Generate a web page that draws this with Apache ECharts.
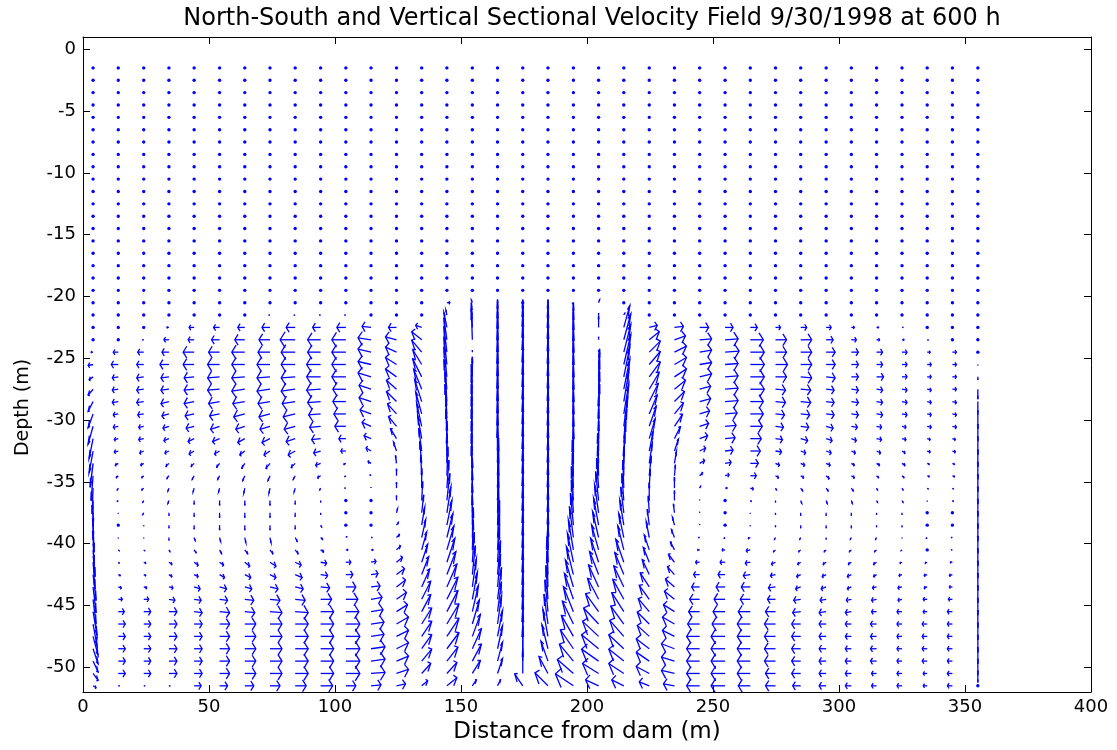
<!DOCTYPE html>
<html>
<head>
<meta charset="utf-8">
<title>North-South and Vertical Sectional Velocity Field</title>
<script src="https://cdn.jsdelivr.net/npm/echarts@6/dist/echarts.min.js"></script>
<style>
html,body{margin:0;padding:0;background:#fff;}
#chart{width:1117px;height:750px;}
</style>
</head>
<body>
<div id="chart"></div>
<script>
// Profile positions along the section (m from the dam)
const distance = [4.0, 14.0, 24.1, 34.1, 44.1, 54.2, 64.2, 74.2, 84.2, 94.3, 104.3, 114.3,
  124.4, 134.4, 144.4, 154.5, 164.5, 174.5, 184.5, 194.6, 204.6, 214.6, 224.7, 234.7,
  244.7, 254.8, 264.8, 274.8, 284.8, 294.9, 304.9, 314.9, 325.0, 335.0, 345.0, 355.1];

// Cell-centre depths (m)
const depth = [-1.5, -2.5, -3.5, -4.5, -5.5, -6.5, -7.5, -8.5, -9.5, -10.5, -11.5, -12.5,
  -13.5, -14.5, -15.5, -16.5, -17.5, -18.5, -19.5, -20.5, -21.5, -22.5, -23.5, -24.5,
  -25.5, -26.5, -27.5, -28.5, -29.5, -30.5, -31.5, -32.5, -33.5, -34.5, -35.5, -36.5,
  -37.5, -38.5, -39.5, -40.5, -41.5, -42.5, -43.5, -44.5, -45.5, -46.5, -47.5, -48.5,
  -49.5, -50.5, -51.5];

const yTicks = [0, -5, -10, -15, -20, -25, -30, -35, -40, -45, -50];

// Along-section velocity u, one profile per station, surface to bottom (positive = away from dam)
const uProfiles = [
  [0,0,0,0,0,0,0,0,0,0,0,0,0,0,0,0,0,0, 0,0,0,0,0,-2,-5,-4,-5,-5,-5,-5,-4,-4,-3,-2,-1,0,0,1,1,2,2,3,3,3,4,4,5,5,5,5,3],
  [0,0,0,0,0,0,0,0,0,0,0,0,0,0,0,0,0,0, 0,0,0,0,0,-5,-7,-6,-6,-6,-5,-5,-4,-4,-3,-2,-1,-1,0,0,0,1,1,2,3,4,6,7,7,7,7,7,1],
  [0,0,0,0,0,0,0,0,0,0,0,0,0,0,0,0,0,0, 0,0,0,0,-1,-6,-7,-7,-7,-7,-6,-5,-5,-4,-3,-2,-2,-1,-1,0,0,1,2,2,3,5,7,7,7,7,7,7,1],
  [0,0,0,0,0,0,0,0,0,0,0,0,0,0,0,0,0,0, 0,0,0,-2,-5,-7,-9,-8,-8,-8,-7,-6,-5,-4,-3,-2,-1,-1,0,0,0,1,3,3,4,6,8,8,8,8,8,8,1],
  [0,0,0,0,0,0,0,0,0,0,0,0,0,0,0,0,0,0, 0,0,0,-5,-6,-11,-11,-10,-10,-10,-9,-8,-6,-5,-3,-2,-1,0,0,0,1,2,4,4,6,7,8,8,8,8,8,8,7],
  [0,0,0,0,0,0,0,0,0,0,0,0,0,0,0,0,0,0, 0,0,0,-6,-8,-11,-12,-12,-12,-11,-10,-9,-7,-5,-3,-2,-1,0,0,0,1,2,4,5,7,8,10,10,10,10,10,10,8],
  [0,0,0,0,0,0,0,0,0,0,0,0,0,0,0,0,0,0, 0,0,0,-7,-10,-13,-13,-13,-13,-12,-11,-9,-7,-5,-3,-2,-1,0,0,0,1,3,5,6,7,9,10,11,11,11,11,11,9],
  [0,0,0,0,0,0,0,0,0,0,0,0,0,0,0,0,0,0, 0,0,-1,-8,-11,-12,-13,-13,-13,-12,-11,-10,-8,-6,-4,-2,-1,0,0,0,1,3,6,6,8,10,12,12,12,12,12,12,10],
  [0,0,0,0,0,0,0,0,0,0,0,0,0,0,0,0,0,0, 0,0,-1,-9,-15,-14,-14,-14,-14,-13,-12,-11,-9,-7,-4,-2,-1,0,0,0,2,3,6,7,8,10,13,13,13,13,13,13,11],
  [0,0,0,0,0,0,0,0,0,0,0,0,0,0,0,0,0,0, 0,0,-1,-8,-13,-13,-14,-14,-14,-13,-12,-11,-9,-7,-5,-3,-1,0,0,1,2,3,6,7,9,11,13,13,13,13,13,13,12],
  [0,0,0,0,0,0,0,0,0,0,0,0,0,0,0,0,0,0, 0,0,-1,-9,-14,-14,-14,-14,-13,-13,-12,-11,-7,-5,-2,-1,-1,0,0,0,1,2,5,7,10,12,13,14,14,14,14,14,10],
  [0,0,0,0,0,0,0,0,0,0,0,0,0,0,0,0,0,0, 0,0,0,-9,-13,-13,-13,-13,-12,-12,-11,-9,-7,-5,-3,-1,0,0,0,0,1,2,5,7,9,11,12,13,13,14,14,14,10],
  [0,0,0,0,0,0,0,0,0,0,0,0,0,0,0,0,0,0, 0,0,0,-8,-11,-11,-11,-11,-10,-10,-9,-8,-6,-3,-1,0,0,0,1,2,3,4,6,8,9,10,11,12,12,12,12,12,9],
  [0,0,0,0,0,0,0,0,0,0,0,0,0,0,0,0,0,0, 0,0,0,-6,-10,-10,-9,-9,-8,-7,-6,-5,-4,-3,-2,-1,0,1,2,3,4,5,6,7,8,9,9,10,10,10,10,9,6],
  [0,0,0,0,0,0,0,0,0,0,0,0,0,0,0,0,0,0, 0,3,-1,-3,-3,-3,-3,-3,-3,-2,-2,-1,-1,0,0,1,2,3,4,5,6,7,8,9,10,11,11,12,12,12,11,10,10],
  [0,0,0,0,0,0,0,0,0,0,0,0,0,0,0,0,0,0, 0,-1,-1,-1,-1,0,0,0,-1,-1,-1,-1,-1,-1,-1,-1,0,0,0,0,1,1,2,3,4,5,6,7,8,9,9,8,4],
  [0,0,0,0,0,0,0,0,0,0,0,0,0,0,0,0,0,0, 0,0,0,0,0,0,0,0,0,0,0,0,0,0,0,1,1,1,1,1,2,2,2,3,3,4,4,4,5,5,5,5,3],
  [0,0,0,0,0,0,0,0,0,0,0,0,0,0,0,0,0,0, 0,0,0,0,0,0,0,0,0,0,0,0,0,0,0,0,0,0,0,0,0,0,0,0,0,0,0,0,0,0,0,0,-8],
  [0,0,0,0,0,0,0,0,0,0,0,0,0,0,0,0,0,0, 0,0,0,0,0,0,0,0,0,0,0,0,0,0,0,0,0,0,0,0,0,0,0,-1,-1,-2,-3,-4,-5,-6,-7,-9,-13],
  [0,0,0,0,0,0,0,0,0,0,0,0,0,0,0,0,0,0, 0,-1,0,0,0,0,0,0,0,0,0,0,0,0,0,-1,-1,-2,-2,-3,-4,-5,-6,-7,-8,-9,-10,-11,-12,-13,-14,-16,-18],
  [0,0,0,0,0,0,0,0,0,0,0,0,0,0,0,0,0,0, 0,1,0,0,0,0,1,1,1,1,1,0,0,0,-1,-1,-2,-3,-4,-5,-6,-7,-8,-9,-10,-11,-13,-15,-16,-17,-17,-16,-13],
  [0,0,0,0,0,0,0,0,0,0,0,0,0,0,0,0,0,0, 0,0,1,6,7,7,7,6,6,5,5,4,3,2,1,0,-1,-2,-3,-4,-5,-6,-8,-9,-10,-11,-12,-13,-14,-15,-15,-15,-12],
  [0,0,0,0,0,0,0,0,0,0,0,0,0,0,0,0,0,0, 0,0,0,8,10,11,11,11,10,9,8,7,6,4,3,2,1,0,-1,-2,-3,-5,-6,-7,-9,-10,-11,-12,-12,-13,-13,-13,-10],
  [0,0,0,0,0,0,0,0,0,0,0,0,0,0,0,0,0,0, 0,0,0,9,11,12,12,12,11,10,9,8,6,4,2,1,0,0,-1,-2,-3,-4,-6,-7,-9,-10,-11,-12,-12,-13,-13,-13,-11],
  [0,0,0,0,0,0,0,0,0,0,0,0,0,0,0,0,0,0, 0,0,0,9,12,12,12,12,11,11,10,9,8,6,5,3,1,0,0,0,-1,-2,-4,-6,-8,-10,-11,-12,-13,-13,-13,-13,-13],
  [0,0,0,0,0,0,0,0,0,0,0,0,0,0,0,0,0,0, 0,0,0,8,13,14,13,13,13,13,12,11,10,8,6,4,2,0,0,0,-1,-3,-5,-7,-9,-11,-12,-13,-14,-14,-14,-14,-14],
  [0,0,0,0,0,0,0,0,0,0,0,0,0,0,0,0,0,0, 0,0,0,7,13,14,14,14,14,13,13,12,11,10,8,6,3,1,0,0,-2,-4,-5,-7,-9,-10,-12,-13,-13,-13,-13,-13,-12],
  [0,0,0,0,0,0,0,0,0,0,0,0,0,0,0,0,0,0, 0,0,0,5,11,11,12,11,10,10,9,8,7,6,4,3,1,0,0,0,-1,-2,-4,-5,-7,-8,-10,-11,-11,-11,-11,-10,-10],
  [0,0,0,0,0,0,0,0,0,0,0,0,0,0,0,0,0,0, 0,0,0,6,11,11,11,11,10,10,9,8,7,5,4,3,2,1,0,0,-1,-2,-3,-4,-5,-7,-8,-9,-9,-9,-9,-9,-8],
  [0,0,0,0,0,0,0,0,0,0,0,0,0,0,0,0,0,0, 0,0,0,5,7,9,9,9,8,8,8,7,6,5,4,3,2,1,0,0,0,-2,-3,-4,-5,-6,-7,-7,-7,-7,-7,-7,-7],
  [0,0,0,0,0,0,0,0,0,0,0,0,0,0,0,0,0,0, 0,0,0,3,5,7,7,7,7,7,7,6,5,4,3,3,2,1,0,0,-1,-2,-3,-4,-4,-5,-6,-6,-6,-6,-6,-6,-6],
  [0,0,0,0,0,0,0,0,0,0,0,0,0,0,0,0,0,0, 0,0,0,2,3,6,6,7,6,6,6,5,5,4,3,2,1,1,0,0,-1,-2,-3,-3,-4,-5,-5,-6,-6,-6,-6,-5,-5],
  [0,0,0,0,0,0,0,0,0,0,0,0,0,0,0,0,0,0, 0,0,0,1,2,5,5,5,5,5,5,4,4,3,3,2,1,1,0,0,0,-1,-2,-3,-4,-4,-5,-5,-5,-5,-5,-5,-5],
  [0,0,0,0,0,0,0,0,0,0,0,0,0,0,0,0,0,0, 0,0,0,0,1,3,4,4,4,4,4,4,3,3,2,2,1,0,0,0,-1,0,-2,-3,-3,-4,-4,-5,-5,-5,-5,-4,-4],
  [0,0,0,0,0,0,0,0,0,0,0,0,0,0,0,0,0,0, 0,0,0,0,0,4,4,4,4,4,4,4,3,3,2,2,1,1,0,0,-1,-1,-2,-3,-3,-4,-5,-5,-5,-5,-5,-5,-5],
  [0,0,0,0,0,0,0,0,0,0,0,0,0,0,0,0,0,0, 0,0,0,0,0,0,0,0,0,0,0,0,0,0,0,0,0,0,0,0,0,0,0,0,0,0,0,0,0,0,0,0,0]
];

// Vertical velocity w, same layout (positive = upward)
const wProfiles = [
  [0,0,0,0,0,0,0,0,0,0,0,0,0,0,0,0,0,0, 0,0,0,0,0,0,-1,-3,-6,-10,-14,-18,-20,-22,-24,-25,-26,-26,-27,-27,-27,-27,-27,-26,-26,-25,-24,-22,-19,-15,-11,-7,-2],
  [0,0,0,0,0,0,0,0,0,0,0,0,0,0,0,0,0,0, 0,0,0,0,0,0,0,-1,-1,-1,-1,-1,-1,-1,-2,-2,-2,-1,-1,0,-1,-1,-1,-1,-1,0,0,0,0,0,0,0,0],
  [0,0,0,0,0,0,0,0,0,0,0,0,0,0,0,0,0,0, 0,0,0,0,0,0,0,-1,-1,-1,-1,-1,-1,-2,-2,-2,-2,-2,-2,-1,-1,-1,-1,-1,-1,0,0,0,0,0,0,0,0],
  [0,0,0,0,0,0,0,0,0,0,0,0,0,0,0,0,0,0, 0,0,0,0,0,0,0,-1,-1,-2,-2,-2,-2,-2,-3,-3,-3,-3,-3,-3,-3,-2,-2,-2,-1,-1,0,0,0,0,0,0,0],
  [0,0,0,0,0,0,0,0,0,0,0,0,0,0,0,0,0,0, 0,0,0,0,0,0,0,-1,-1,-2,-2,-2,-3,-3,-3,-4,-4,-4,-4,-4,-3,-3,-3,-2,-2,-1,-1,0,0,0,0,0,0],
  [0,0,0,0,0,0,0,0,0,0,0,0,0,0,0,0,0,0, 0,0,0,0,0,0,0,-1,-1,-2,-2,-3,-3,-3,-4,-4,-4,-5,-5,-5,-4,-4,-3,-3,-2,-1,-1,0,0,0,0,0,0],
  [0,0,0,0,0,0,0,0,0,0,0,0,0,0,0,0,0,0, 0,0,0,0,0,0,0,-1,-2,-2,-3,-3,-4,-4,-5,-5,-5,-5,-5,-5,-5,-4,-4,-3,-2,-1,-1,0,0,0,0,0,0],
  [0,0,0,0,0,0,0,0,0,0,0,0,0,0,0,0,0,0, 0,0,0,0,0,0,0,-1,-2,-2,-3,-3,-4,-4,-5,-5,-5,-5,-5,-5,-5,-4,-4,-3,-2,-1,-1,0,0,0,0,0,0],
  [0,0,0,0,0,0,0,0,0,0,0,0,0,0,0,0,0,0, 0,0,0,0,0,0,0,-1,-2,-2,-3,-3,-3,-4,-4,-4,-4,-4,-4,-4,-4,-4,-3,-3,-2,-1,-1,0,0,0,0,0,0],
  [0,0,0,0,0,0,0,0,0,0,0,0,0,0,0,0,0,0, 0,0,0,0,0,0,0,0,-1,-1,-1,-1,-1,-2,-2,-2,-2,-2,-2,-2,-2,-2,-1,-1,-1,0,0,0,0,0,0,0,0],
  [0,0,0,0,0,0,0,0,0,0,0,0,0,0,0,0,0,0, 0,0,0,0,0,0,0,0,0,0,0,0,0,0,-1,-1,0,0,0,0,1,0,0,0,0,0,0,0,0,0,0,0,0],
  [0,0,0,0,0,0,0,0,0,0,0,0,0,0,0,0,0,0, 0,0,0,1,2,3,3,4,4,4,4,4,3,3,2,1,1,0,0,0,0,0,1,1,1,2,2,2,2,2,2,1,1],
  [0,0,0,0,0,0,0,0,0,0,0,0,0,0,0,0,0,0, 0,0,0,0,3,5,7,8,9,10,10,10,10,9,8,7,6,5,4,3,3,4,5,6,7,7,7,7,6,6,5,4,2],
  [0,0,0,0,0,0,0,0,0,0,0,0,0,0,0,0,0,0, 0,0,0,2,8,12,15,18,20,22,22,23,23,23,22,21,20,19,18,18,18,18,18,18,18,18,17,16,15,14,12,10,5],
  [0,0,0,0,0,0,0,0,0,0,0,0,0,0,0,0,0,0, 0,0,5,15,22,26,28,30,30,30,30,30,30,30,30,29,28,27,26,25,24,24,24,23,23,22,21,20,18,16,14,11,8],
  [0,0,0,0,0,0,0,0,0,0,0,0,0,0,0,0,0,0, 0,3,4,25,30,2,6,20,25,28,30,30,30,30,30,30,30,30,30,30,30,30,30,29,28,27,26,24,22,20,17,13,6],
  [0,0,0,0,0,0,0,0,0,0,0,0,0,0,0,0,0,0, 0,2,3,28,32,35,36,37,38,38,38,38,38,38,38,38,38,38,38,37,37,36,35,34,33,32,30,28,26,23,19,15,6],
  [0,0,0,0,0,0,0,0,0,0,0,0,0,0,0,0,0,0, 0,0,3,28,34,38,40,40,40,40,40,40,40,40,40,40,40,40,40,40,40,40,40,40,40,40,40,40,40,40,36,25,12],
  [0,0,0,0,0,0,0,0,0,0,0,0,0,0,0,0,0,0, 0,2,4,28,33,36,38,38,38,38,38,38,38,38,38,38,38,38,38,38,38,38,38,38,36,34,32,30,27,24,20,17,13],
  [0,0,0,0,0,0,0,0,0,0,0,0,0,0,0,0,0,0, 0,-1,3,25,30,33,35,36,36,36,36,36,36,36,36,36,35,34,33,32,31,30,29,28,27,26,25,23,21,19,17,14,12],
  [0,0,0,0,0,0,0,0,0,0,0,0,0,0,0,0,0,0, 0,3,2,12,3,2,12,28,30,30,30,30,30,30,30,30,30,29,28,27,26,25,24,23,22,21,18,16,15,14,12,10,6],
  [0,0,0,0,0,0,0,0,0,0,0,0,0,0,0,0,0,0, 0,0,2,22,26,28,30,30,30,30,30,30,30,30,30,29,28,27,26,25,24,24,23,22,21,20,19,18,16,14,12,10,6],
  [0,0,0,0,0,0,0,0,0,0,0,0,0,0,0,0,0,0, 0,0,0,2,8,11,13,15,17,18,19,20,20,20,20,20,19,18,17,16,16,15,15,15,14,14,13,12,11,10,9,7,4],
  [0,0,0,0,0,0,0,0,0,0,0,0,0,0,0,0,0,0, 0,0,0,1,4,6,7,8,9,10,11,12,12,12,12,11,11,10,9,8,8,8,8,8,8,8,7,7,6,5,4,3,2],
  [0,0,0,0,0,0,0,0,0,0,0,0,0,0,0,0,0,0, 0,0,0,0,1,2,2,3,3,3,3,3,3,3,3,3,2,1,1,1,0,0,0,0,0,0,0,0,0,0,0,0,0],
  [0,0,0,0,0,0,0,0,0,0,0,0,0,0,0,0,0,0, 0,0,0,0,1,1,1,1,1,1,1,1,1,1,1,1,0,0,0,0,-1,0,0,0,0,0,0,0,0,0,0,0,0],
  [0,0,0,0,0,0,0,0,0,0,0,0,0,0,0,0,0,0, 0,0,0,0,0,0,0,0,0,0,0,0,0,0,0,0,-1,-1,-1,-1,-1,-1,-1,-1,0,0,0,0,0,0,0,0,0],
  [0,0,0,0,0,0,0,0,0,0,0,0,0,0,0,0,0,0, 0,0,0,0,0,0,0,0,-1,-1,-1,-1,-1,-1,-2,-2,-2,-2,-2,-2,-2,-2,-2,-1,-1,0,0,0,0,0,0,0,0],
  [0,0,0,0,0,0,0,0,0,0,0,0,0,0,0,0,0,0, 0,0,0,0,0,0,0,-1,-1,-1,-1,-1,-2,-2,-2,-2,-3,-3,-3,-3,-2,-2,-2,-2,-2,-1,-1,0,0,0,0,0,0],
  [0,0,0,0,0,0,0,0,0,0,0,0,0,0,0,0,0,0, 0,0,0,0,0,0,0,-1,-1,-1,-1,-2,-2,-2,-2,-3,-3,-3,-3,-3,-2,-2,-2,-2,-2,-1,-1,0,0,0,0,0,0],
  [0,0,0,0,0,0,0,0,0,0,0,0,0,0,0,0,0,0, 0,0,0,0,0,0,0,0,-1,-1,-1,-1,-2,-2,-2,-2,-3,-3,-3,-3,-2,-2,-2,-2,-2,-1,-1,0,0,0,0,0,0],
  [0,0,0,0,0,0,0,0,0,0,0,0,0,0,0,0,0,0, 0,0,0,0,0,0,0,0,-1,-1,-1,-1,-1,-2,-2,-2,-2,-2,-2,-2,-2,-2,-2,-2,-1,-1,0,0,0,0,0,0,0],
  [0,0,0,0,0,0,0,0,0,0,0,0,0,0,0,0,0,0, 0,0,0,0,0,0,0,0,-1,-1,-1,-1,-1,-2,-2,-2,-2,-2,-2,-2,-1,-1,-1,-1,-1,-1,0,0,0,0,0,0,0],
  [0,0,0,0,0,0,0,0,0,0,0,0,0,0,0,0,0,0, 0,0,0,0,0,0,0,0,-1,-1,-1,-1,-1,-1,-1,-1,-1,-1,0,0,-1,0,-1,-1,-1,0,0,0,0,0,0,0,0],
  [0,0,0,0,0,0,0,0,0,0,0,0,0,0,0,0,0,0, 0,0,0,0,0,0,0,0,0,-1,-1,-1,-1,-1,-1,-1,-1,-1,0,0,0,0,0,-1,0,0,0,0,0,0,0,0,0],
  [0,0,0,0,0,0,0,0,0,0,0,0,0,0,0,0,0,0, 0,0,0,0,0,0,-1,-3,-10,-13,-15,-15,-16,-16,-16,-16,-16,-16,-16,-16,-16,-16,-16,-16,-16,-16,-16,-16,-16,-15,-14,-9,0]
];

// Arrow length per unit of u (m along the section) and per unit of w (m of depth)
const U_SCALE = 1 / 2.52;
const W_SCALE = 1 / 12.36;
// Quiver-style head: length and half-width as fractions of the shaft
const HEAD_LEN = 0.33;
const HEAD_WIDTH = 0.33;
const BLUE = '#0000ff';
const FONT = 'DejaVu Sans';

uProfiles.forEach((col, i) => {
  if (col.length !== depth.length || wProfiles[i].length !== depth.length) {
    throw new Error('profile ' + i + ' has ' + col.length + '/' + wProfiles[i].length + ' values');
  }
});

const vectors = [];
distance.forEach((x, i) => {
  depth.forEach((z, j) => {
    vectors.push([x, z, uProfiles[i][j], wProfiles[i][j]]);
  });
});

function renderArrow(params, api) {
  const x = api.value(0);
  const y = api.value(1);
  const du = api.value(2) * U_SCALE;
  const dv = api.value(3) * W_SCALE;
  const p0 = api.coord([x, y]);
  if (du === 0 && dv === 0) {
    return { type: 'circle', shape: { cx: p0[0], cy: p0[1], r: 1.7 }, style: { fill: BLUE } };
  }
  const tx = x + du, ty = y + dv;
  const tip = api.coord([tx, ty]);
  const h1 = api.coord([tx - HEAD_LEN * (du + HEAD_WIDTH * dv), ty - HEAD_LEN * (dv - HEAD_WIDTH * du)]);
  const h2 = api.coord([tx - HEAD_LEN * (du - HEAD_WIDTH * dv), ty - HEAD_LEN * (dv + HEAD_WIDTH * du)]);
  const style = { stroke: BLUE, lineWidth: 1.3, fill: null };
  return {
    type: 'group',
    children: [
      { type: 'polyline', shape: { points: [p0, tip] }, style: style },
      { type: 'polyline', shape: { points: [h1, tip, h2] }, style: style }
    ]
  };
}

const axisLine = { show: true, onZero: false, lineStyle: { color: '#000', width: 1 } };
const tick = { show: true, inside: true, length: 7, lineStyle: { color: '#000', width: 1 } };

const chart = echarts.init(document.getElementById('chart'), null, { renderer: 'canvas' });
chart.setOption({
  backgroundColor: '#fff',
  animation: false,
  title: {
    text: 'North-South and Vertical Sectional Velocity Field 9/30/1998 at 600 h',
    left: 587,
    textAlign: 'center',
    top: 2,
    textStyle: { fontFamily: FONT, fontSize: 24, fontWeight: 'normal', color: '#000' }
  },
  grid: { left: 83, right: 26, top: 37, bottom: 58, containLabel: false },
  xAxis: [
    {
      type: 'value', position: 'bottom', min: 0, max: 400, interval: 50,
      name: 'Distance from dam (m)', nameLocation: 'middle', nameGap: 27,
      nameTextStyle: { fontFamily: FONT, fontSize: 23, color: '#000' },
      axisLine: axisLine, axisTick: tick,
      axisLabel: { fontFamily: FONT, fontSize: 18, color: '#000', margin: 6, showMinLabel: true, showMaxLabel: true },
      splitLine: { show: false }
    },
    {
      type: 'value', position: 'top', min: 0, max: 400, interval: 50,
      axisLine: axisLine, axisTick: tick, axisLabel: { show: false }, splitLine: { show: false }
    }
  ],
  yAxis: [
    {
      type: 'value', position: 'left', min: -52, max: 1,
      name: 'Depth (m)', nameLocation: 'middle', nameGap: 50, nameRotate: 90,
      nameTextStyle: { fontFamily: FONT, fontSize: 19, color: '#000', padding: [0, 86, 0, 0] },
      axisLine: axisLine,
      axisTick: Object.assign({ customValues: yTicks }, tick),
      axisLabel: { customValues: yTicks, fontFamily: FONT, fontSize: 18, color: '#000', margin: 7 },
      splitLine: { show: false }
    },
    {
      type: 'value', position: 'right', min: -52, max: 1,
      axisLine: axisLine,
      axisTick: Object.assign({ customValues: yTicks }, tick),
      axisLabel: { show: false }, splitLine: { show: false }
    }
  ],
  series: [{
    type: 'custom',
    coordinateSystem: 'cartesian2d',
    xAxisIndex: 0,
    yAxisIndex: 0,
    renderItem: renderArrow,
    encode: { x: 0, y: 1 },
    data: vectors,
    progressive: 0,
    silent: true,
    clip: true
  }]
});
</script>
</body>
</html>
